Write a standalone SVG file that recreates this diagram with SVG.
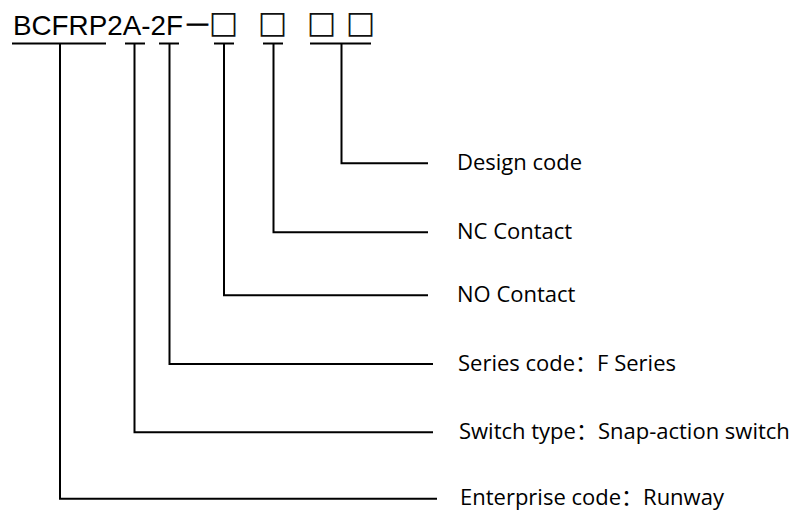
<svg xmlns="http://www.w3.org/2000/svg" width="811" height="514" viewBox="0 0 811 514">
<style>
.title{font-family:"Liberation Sans",Arial,sans-serif;font-size:27.8px;fill:#000}
.sq{font-family:"DejaVu Sans",sans-serif;font-size:31px;fill:#111}
.dash{font-size:21px;stroke:#000;stroke-width:0.7}
.lbl{font-family:"Open Sans","Noto Sans CJK SC",sans-serif;font-size:22px;fill:#000}
.ln{fill:none;stroke:#000;stroke-width:2}
</style>
<rect width="811" height="514" fill="#fff"/>
<g id="code">
<text class="title" x="13" y="35">BCFRP2A-2F<tspan class="dash" x="187" y="29.5">—</tspan><tspan class="sq" x="208.8" y="32.8">□</tspan><tspan class="sq" x="257.8" y="32.8">□</tspan><tspan class="sq" x="306.8" y="32.8">□</tspan><tspan class="sq" x="345.8" y="32.8">□</tspan></text>
</g>
<g id="connectors">
<line class="ln" x1="12" y1="43.5" x2="106" y2="43.5"/>
<polyline class="ln" points="60,43.5 60,498.7 437,498.7"/>
<line class="ln" x1="125" y1="43.5" x2="145" y2="43.5"/>
<polyline class="ln" points="134.5,43.5 134.5,432.3 433,432.3"/>
<line class="ln" x1="159" y1="43.5" x2="179" y2="43.5"/>
<polyline class="ln" points="169.5,43.5 169.5,364 433,364"/>
<line class="ln" x1="214" y1="43.5" x2="234" y2="43.5"/>
<polyline class="ln" points="224,43.5 224,295.3 428,295.3"/>
<line class="ln" x1="263" y1="43.5" x2="283" y2="43.5"/>
<polyline class="ln" points="273.5,43.5 273.5,232.3 428,232.3"/>
<line class="ln" x1="310" y1="43.5" x2="371" y2="43.5"/>
<polyline class="ln" points="341.5,43.5 341.5,163.3 428,163.3"/>
</g>
<g id="label-design"><text class="lbl" x="457" y="170">Design code</text></g>
<g id="label-nc"><text class="lbl" x="457" y="239">NC Contact</text></g>
<g id="label-no"><text class="lbl" x="457" y="302">NO Contact</text></g>
<g id="label-series"><text class="lbl" x="458" y="371">Series code：F Series</text></g>
<g id="label-switch"><text class="lbl" x="459" y="438.5">Switch type：Snap-action switch</text></g>
<g id="label-enterprise"><text class="lbl" x="460" y="505">Enterprise code：Runway</text></g>
</svg>
